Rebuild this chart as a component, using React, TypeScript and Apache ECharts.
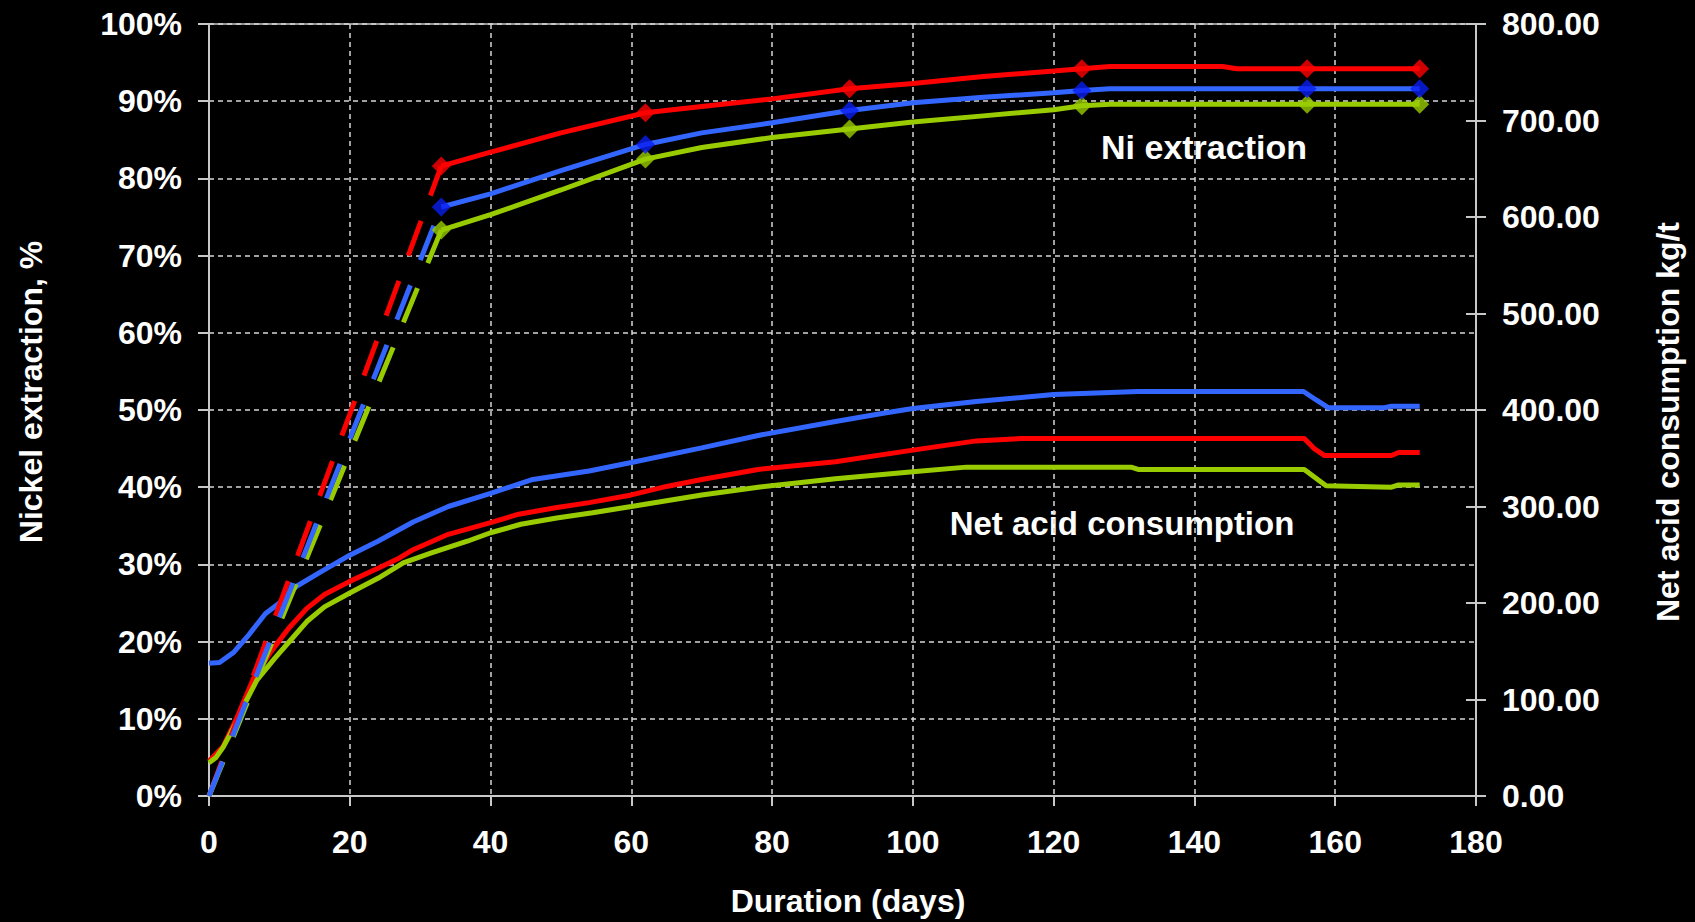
import React, { useEffect, useRef } from "react";
import * as echarts from "echarts";

// ---- Data ----
// Nickel extraction (%), solid part of the curves
const niDays = [33, 40, 50, 62, 70, 80, 91, 100, 110, 120, 124, 128, 144, 146, 156, 172];
const niRed = [81.6, 83.4, 85.9, 88.5, 89.3, 90.3, 91.6, 92.3, 93.2, 93.9, 94.2, 94.5, 94.5, 94.2, 94.2, 94.2];
const niBlue = [76.3, 78.0, 81.0, 84.4, 85.9, 87.2, 88.8, 89.8, 90.5, 91.1, 91.4, 91.6, 91.6, 91.6, 91.6, 91.6];
const niGreen = [73.3, 75.3, 78.5, 82.5, 84.0, 85.3, 86.4, 87.3, 88.1, 88.9, 89.4, 89.6, 89.6, 89.6, 89.6, 89.6];
// Days carrying a diamond marker
const markerDays = [33, 62, 91, 124, 156, 172];
// Origin of the dashed (assumed) start of extraction curves
const niOrigin = [0, 0];

// Net acid consumption (kg/t)
const acidBlueDays = [0, 1.5, 3.5, 5.5, 8, 10, 12.5, 16, 20, 24, 29, 34, 40, 46, 54, 60, 70, 78, 89, 96, 100, 109, 120, 132, 155.5, 157.3, 159, 167, 168, 172];
const acidBlue = [137.6, 138.4, 148.8, 165.6, 188.8, 200, 217.6, 232.8, 249.6, 264, 284, 300, 313.6, 328, 336.8, 345.6, 360.8, 373.6, 388, 396.8, 401.6, 408.8, 416, 419.2, 419.2, 410.4, 402.4, 402.4, 404, 404];

const acidRedDays = [0, 2, 4, 6.3, 8.8, 11.3, 13.9, 16.4, 20, 24, 27, 29, 34, 40, 44, 49, 54, 60, 65, 70, 78, 89, 100, 109, 115.5, 155.6, 157, 158.5, 168, 169, 172];
const acidRed = [36, 51.2, 81.6, 121.6, 149.6, 173.6, 194.4, 208.8, 222.4, 236, 246.4, 255.2, 271.2, 283.2, 292, 298.4, 304, 312, 320.8, 328, 338.4, 346.4, 358.4, 368, 370.4, 370.4, 360, 352.8, 352.8, 356, 356];

const acidGreenDays = [0, 1, 2, 3, 4, 5, 6.8, 9.3, 11.8, 13.9, 16.4, 20, 24, 27.6, 31.6, 36.7, 40, 44.3, 49.4, 54.5, 60, 70, 78, 89, 100, 107.6, 131, 132, 155.6, 158.7, 168, 169, 172];
const acidGreen = [34.4, 40, 50.4, 64, 78.4, 94.4, 120, 142.4, 163.2, 180.8, 196, 210.4, 225.6, 241.6, 252, 264, 272.8, 281.6, 288, 293.6, 300, 312, 320, 328.8, 336, 340.8, 340.8, 338.4, 338.4, 321.6, 320, 322.4, 322.4];

// Axis ticks
const xTicks = { min: 0, max: 180, interval: 20 };
const leftTicks = { min: 0, max: 100, interval: 10 };
const rightTicks = { min: 0, max: 800, interval: 100 };

const RED = "#ff0000";
const BLUE = "#3366ff";
const BLUE_MARK = "#0a1ef0";
const GREEN = "#99cc00";
const FONT = "'Liberation Sans', Arial, sans-serif";

const zip = (xs: number[], ys: number[]) => xs.map((x, i) => [x, ys[i]]);

export default function App() {
  const ref = useRef<HTMLDivElement>(null);
  useEffect(() => {
    if (!ref.current) return;
    const chart = echarts.init(ref.current, null, { renderer: "svg" });

    const niSeries = (name: string, vals: number[], color: string, markColor: string) => [
      {
        name: name + " start",
        type: "line",
        xAxisIndex: 0,
        yAxisIndex: 0,
        data: [niOrigin, [niDays[0], vals[0]]],
        symbol: "none",
        lineStyle: { color, width: 5, type: [37, 27], cap: "butt" },
        z: 5,
      },
      {
        name,
        type: "line",
        xAxisIndex: 0,
        yAxisIndex: 0,
        data: zip(niDays, vals),
        symbol: "none",
        lineStyle: { color, width: 5 },
        z: 5,
      },
      {
        name: name + " markers",
        type: "scatter",
        xAxisIndex: 0,
        yAxisIndex: 0,
        data: markerDays.map((d) => [d, vals[niDays.indexOf(d)]]),
        symbol: "diamond",
        symbolSize: 19,
        itemStyle: { color: markColor },
        z: 6,
      },
    ];

    const acidSeries = (name: string, days: number[], vals: number[], color: string) => ({
      name,
      type: "line",
      xAxisIndex: 0,
      yAxisIndex: 1,
      data: zip(days, vals),
      symbol: "none",
      lineStyle: { color, width: 5 },
      z: 4,
    });

    const axisLineStyle = { color: "#c8c8c8", width: 2 };
    const splitLine = { show: true, lineStyle: { color: "#d6d6d6", width: 1.5, type: [5, 4] } };
    const labelStyle = { color: "#ffffff", fontSize: 32, fontWeight: "bold", fontFamily: FONT };

    chart.setOption({
      animation: false,
      backgroundColor: "#000000",
      grid: {
        left: 209,
        right: 219,
        top: 24,
        bottom: 126,
        show: true,
        borderColor: "#c8c8c8",
        borderWidth: 1.5,
        backgroundColor: "transparent",
      },
      xAxis: [
        {
          type: "value",
          ...xTicks,
          axisLine: { show: true, lineStyle: axisLineStyle },
          axisTick: { show: true, length: 10, lineStyle: axisLineStyle },
          axisLabel: { ...labelStyle, margin: 30 },
          splitLine,
        },
      ],
      yAxis: [
        {
          type: "value",
          position: "left",
          ...leftTicks,
          axisLine: { show: true, lineStyle: axisLineStyle },
          axisTick: { show: true, length: 11, lineStyle: axisLineStyle },
          axisLabel: { ...labelStyle, margin: 27, formatter: "{value}%" },
          splitLine,
        },
        {
          type: "value",
          position: "right",
          ...rightTicks,
          axisLine: { show: true, lineStyle: axisLineStyle },
          axisTick: { show: true, length: 10, lineStyle: axisLineStyle },
          axisLabel: { ...labelStyle, margin: 26, formatter: (v: number) => v.toFixed(2) },
          splitLine: { show: false },
        },
        {
          type: "value",
          position: "right",
          ...rightTicks,
          axisLine: { show: false },
          axisTick: { show: true, inside: true, length: 10, lineStyle: axisLineStyle },
          axisLabel: { show: false },
          splitLine: { show: false },
        },
      ],
      graphic: [
        {
          type: "text",
          x: 1204,
          y: 147,
          style: { text: "Ni extraction", fill: "#fff", fontSize: 34, fontWeight: "bold", fontFamily: FONT, align: "center", verticalAlign: "middle" },
        },
        {
          type: "text",
          x: 1122,
          y: 523,
          style: { text: "Net acid consumption", fill: "#fff", fontSize: 33, fontWeight: "bold", fontFamily: FONT, align: "center", verticalAlign: "middle" },
        },
        {
          type: "text",
          x: 848,
          y: 901,
          style: { text: "Duration (days)", fill: "#fff", fontSize: 32, fontWeight: "bold", fontFamily: FONT, align: "center", verticalAlign: "middle" },
        },
        {
          type: "text",
          x: 31,
          y: 392,
          rotation: Math.PI / 2,
          style: { text: "Nickel extraction, %", fill: "#fff", fontSize: 32, fontWeight: "bold", fontFamily: FONT, align: "center", verticalAlign: "middle" },
        },
        {
          type: "text",
          x: 1668,
          y: 422,
          rotation: Math.PI / 2,
          style: { text: "Net acid consumption kg/t", fill: "#fff", fontSize: 32, fontWeight: "bold", fontFamily: FONT, align: "center", verticalAlign: "middle" },
        },
      ],
      series: [
        acidSeries("Acid red", acidRedDays, acidRed, RED),
        acidSeries("Acid blue", acidBlueDays, acidBlue, BLUE),
        acidSeries("Acid green", acidGreenDays, acidGreen, GREEN),
        ...niSeries("Ni red", niRed, RED, RED),
        ...niSeries("Ni green", niGreen, GREEN, GREEN),
        ...niSeries("Ni blue", niBlue, BLUE, BLUE_MARK),
      ],
    });
    return () => chart.dispose();
  }, []);

  return (
    <div
      ref={ref}
      style={{ position: "fixed", left: 0, top: 0, width: 1695, height: 922, background: "#000" }}
    />
  );
}
